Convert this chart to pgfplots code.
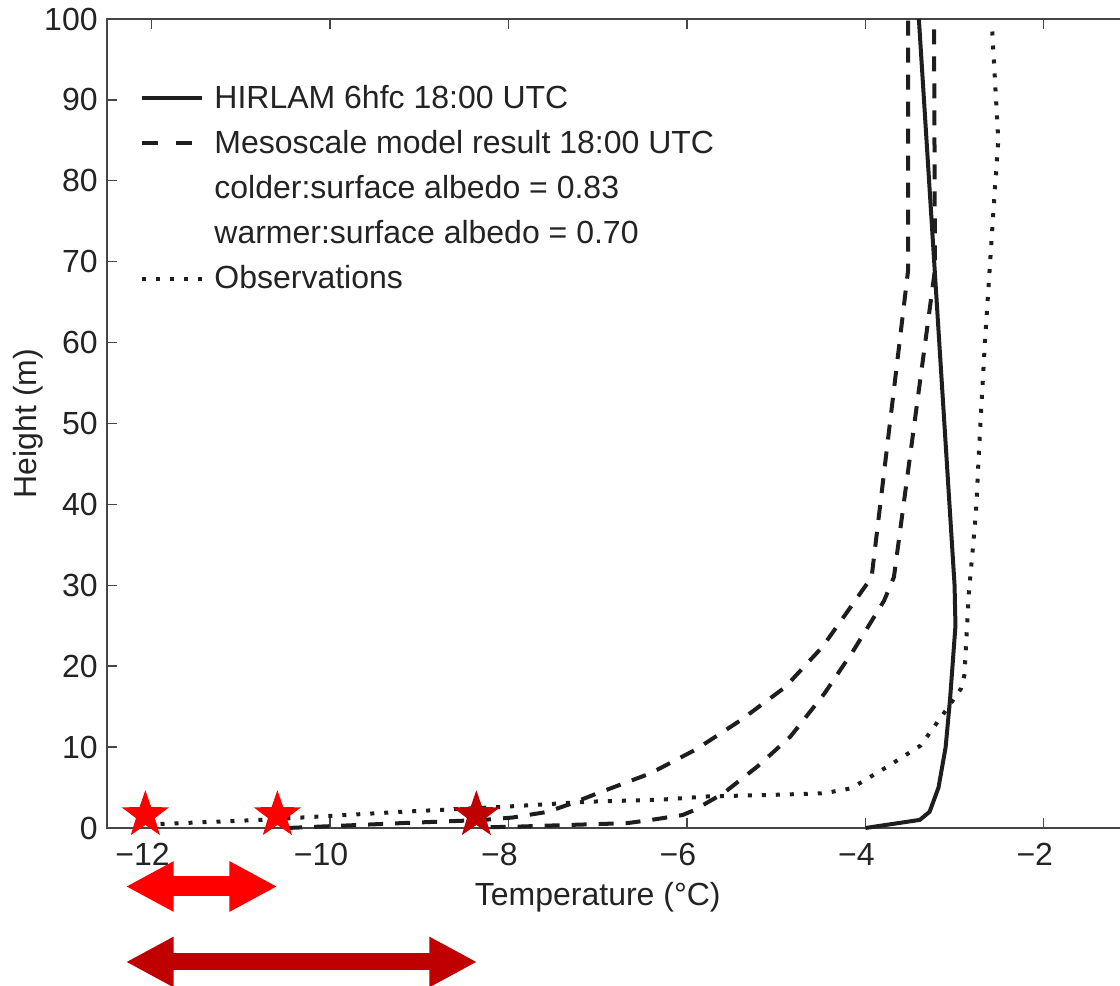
\documentclass[border=0pt]{standalone}
\usepackage{fontspec}
\setmainfont{Liberation Sans}
\usepackage{pgfplots}
\pgfplotsset{compat=1.18}
\usetikzlibrary{arrows.meta}
\definecolor{axgray}{RGB}{70,70,70}
\definecolor{ln}{RGB}{30,30,30}
\definecolor{txt}{RGB}{35,35,35}
\definecolor{brightred}{RGB}{255,0,0}
\definecolor{darkred}{RGB}{192,0,0}
\pgfdeclareplotmark{fstar}{%
  \pgfpathmoveto{\pgfqpointpolar{90}{\pgfplotmarksize}}%
  \pgfpathlineto{\pgfqpointpolar{126}{0.4\pgfplotmarksize}}%
  \pgfpathlineto{\pgfqpointpolar{162}{\pgfplotmarksize}}%
  \pgfpathlineto{\pgfqpointpolar{198}{0.4\pgfplotmarksize}}%
  \pgfpathlineto{\pgfqpointpolar{234}{\pgfplotmarksize}}%
  \pgfpathlineto{\pgfqpointpolar{270}{0.4\pgfplotmarksize}}%
  \pgfpathlineto{\pgfqpointpolar{306}{\pgfplotmarksize}}%
  \pgfpathlineto{\pgfqpointpolar{342}{0.4\pgfplotmarksize}}%
  \pgfpathlineto{\pgfqpointpolar{18}{\pgfplotmarksize}}%
  \pgfpathlineto{\pgfqpointpolar{54}{0.4\pgfplotmarksize}}%
  \pgfpathclose\pgfusepathqfill}
\begin{document}
\begin{tikzpicture}
\begin{axis}[
  at={(0,0)}, anchor=south west,
  scale only axis, width=513pt, height=404.5pt,
  xmin=-12.5, xmax=-1, ymin=0, ymax=100,
  clip=false,
  axis line style={axgray, line width=0.7pt},
  xtick={-12,-10,-8,-6,-4,-2},
  xticklabels={−12,−10,−8,−6,−4,−2},
  ytick={0,10,...,100},
  /pgf/number format/assume math mode=true,
  tick align=inside, xtick pos=both, ytick pos=left,
  major tick length=5pt,
  tick style={axgray, line width=0.7pt},
  font=\fontsize{16}{19.2}\selectfont,
  ticklabel style={font=\fontsize{16}{19.2}\selectfont, text=txt},
  xticklabel style={anchor=north, inner sep=0pt, yshift=-7.5pt, xshift=-4.5pt},
  yticklabel style={anchor=east, inner sep=0pt, xshift=-4.5pt},
  xlabel={Temperature (°C)},
  xlabel style={at={(rel axis cs:0.4783,-0.0952)}, anchor=base, inner sep=0pt, text=txt},
  ylabel={Height (m)},
  ylabel style={at={(rel axis cs:0,0.5)}, anchor=base, inner sep=0pt, yshift=35pt, text=txt},
  legend cell align=left,
  legend image code/.code={\draw[#1] (0pt,0pt) -- (30pt,0pt);},
  legend style={draw=none, fill=none, at={(axis cs:-12.13,91.9)}, anchor=north west,
    inner sep=0pt, row sep=9.5pt, column sep=5pt, text=txt,
    nodes={inner sep=0pt}, font=\fontsize{16}{19.2}\selectfont},
]
% HIRLAM
\addplot[ln, line width=2pt, forget plot] coordinates {
(-4.00,0) (-3.39,1) (-3.28,2) (-3.18,5) (-3.10,10) (-3.05,16) (-2.99,25) (-3.00,30) (-3.40,100)};
% Mesoscale colder
\addplot[ln, line width=2pt, dash pattern=on 7.5pt off 6pt, forget plot] coordinates {
(-10.48,0) (-9.2,0.6) (-8.28,1.0) (-7.95,1.3) (-7.56,2.0) (-7.3,3.0) (-7.0,4.3) (-6.41,6.75)
(-5.9,9.7) (-5.4,13.3) (-4.9,17.4) (-4.48,22.4) (-4.14,27.7) (-3.93,31) (-3.52,69) (-3.52,100)};
% Mesoscale warmer
\addplot[ln, line width=2pt, dash pattern=on 7.5pt off 6pt, forget plot] coordinates {
(-8.2,0.1) (-7.9,0.17) (-7.34,0.37) (-6.67,0.6) (-6.4,1.0) (-6.05,1.6) (-5.92,2.2) (-5.59,4.3)
(-5.21,7.6) (-4.84,11.3) (-4.46,16.6) (-4.13,22) (-3.79,28.1) (-3.68,31) (-3.22,69) (-3.23,100)};
% Observations
\addplot[ln, line width=2pt, dash pattern=on 2pt off 5pt, forget plot] coordinates {
(-11.9,0.5) (-10.78,1.0) (-9.2,2.0) (-8.46,2.4) (-8.09,2.6) (-7.1,3.25) (-6.29,3.5) (-5.77,3.9)
(-5.02,4.1) (-4.46,4.3) (-4.16,4.9) (-3.75,7.6) (-3.38,10.2) (-3.1,14.5) (-2.93,17.2) (-2.89,18.9)
(-2.84,29) (-2.76,39) (-2.72,48) (-2.66,60) (-2.56,77) (-2.51,85) (-2.58,99)};
% stars
\addplot[only marks, mark=fstar, mark size=12.4pt, brightred, forget plot] coordinates {(-12.07,1.6) (-10.59,1.6)};
\addplot[only marks, mark=fstar, mark size=12.4pt, darkred, forget plot] coordinates {(-8.36,1.6)};
% arrows
\addplot[brightred, line width=10pt, {Triangle[length=24pt,width=23.5pt]}-{Triangle[length=24pt,width=23.5pt]}, forget plot] coordinates {(-12.29,-7.23) (-10.59,-7.23)};
\addplot[darkred, line width=8.5pt, {Triangle[length=24pt,width=23.5pt]}-{Triangle[length=24pt,width=23.5pt]}, forget plot] coordinates {(-12.29,-16.56) (-8.35,-16.56)};
% legend
\addlegendimage{ln, line width=2pt}
\addlegendentry{HIRLAM 6hfc 18:00 UTC}
\addlegendimage{ln, line width=2pt, dash pattern=on 8pt off 9pt}
\addlegendentry{Mesoscale model result 18:00 UTC}
\addlegendimage{empty legend}
\addlegendentry{colder:surface albedo = 0.83}
\addlegendimage{empty legend}
\addlegendentry{warmer:surface albedo = 0.70}
\addlegendimage{ln, line width=2pt, dash pattern=on 2pt off 5pt}
\addlegendentry{Observations}
\end{axis}
\pgfresetboundingbox
\useasboundingbox (-53.5pt,-79pt) rectangle (506.5pt,414pt);
\end{tikzpicture}
\end{document}
